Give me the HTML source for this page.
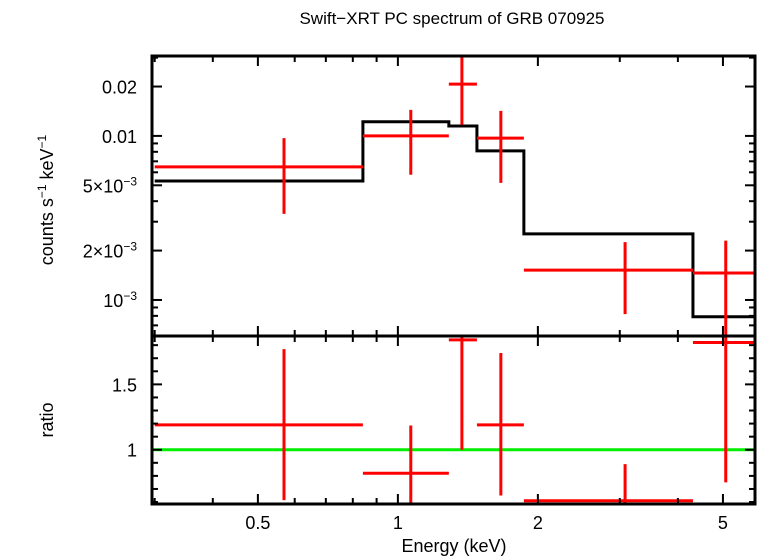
<!DOCTYPE html>
<html><head><meta charset="utf-8"><style>
body{margin:0;background:#fff;}
svg{display:block;font-family:"Liberation Sans",sans-serif;}
</style></head><body>
<svg id="chart" width="758" height="556" viewBox="0 0 758 556" xmlns="http://www.w3.org/2000/svg">
<text x="452" y="24" font-size="17" text-anchor="middle">Swift−XRT PC spectrum of GRB 070925</text>
<g id="g"></g>
</svg>
<script>
// data
const binLo = [0.3, 0.841, 1.287, 1.479, 1.866, 4.31];
const binHi = [0.841, 1.287, 1.479, 1.866, 4.31, 5.86];
const binCenter = [0.569, 1.066, 1.373, 1.665, 3.08, 5.07];
const rate = [0.00647, 0.0100, 0.0207, 0.0097, 0.00152, 0.00146];
const rateHi = [0.0097, 0.0144, 0.0303, 0.0142, 0.00225, 0.0023];
const rateLo = [0.00335, 0.0058, 0.0117, 0.00517, 0.00082, 0.0006];
const model = [0.00531, 0.0122, 0.0115, 0.0081, 0.00253, 0.00079];
const ratio = [1.19, 0.82, 1.84, 1.19, 0.61, 1.82];
const ratioHi = [1.77, 1.185, 1.9, 1.74, 0.89, 1.9];
const ratioLo = [0.615, 0.5, 1.0, 0.65, 0.5, 0.75];
const xTicks = [0.5, 1, 2, 5];
const xTickLabels = ["0.5", "1", "2", "5"];
const yTopTicks = [0.02, 0.01, 0.005, 0.002, 0.001];
const yTopLabels = ["0.02", "0.01", "5×10<tspan dy='-7' font-size='12'>−3</tspan>", "2×10<tspan dy='-7' font-size='12'>−3</tspan>", "10<tspan dy='-7' font-size='12'>−3</tspan>"];
const yBotTicks = [1.5, 1];
const yBotLabels = ["1.5", "1"];

const L=152,R=755,T=56,M=336,B=504;
const xMin=0.296,xMax=5.86;
const X=e=>L+(Math.log10(e)-Math.log10(xMin))/(Math.log10(xMax)-Math.log10(xMin))*(R-L);
const yTMin=6.03e-4,yTMax=0.0307;
const YT=v=>M-(Math.log10(v)-Math.log10(yTMin))/(Math.log10(yTMax)-Math.log10(yTMin))*(M-T);
const rMin=0.585,rMax=1.87;
const YB=v=>B-(v-rMin)/(rMax-rMin)*(B-M);
const clipT=v=>Math.max(T,Math.min(M,v)), clipB=v=>Math.max(M,Math.min(B,v));
const g=document.getElementById('g');
const NS='http://www.w3.org/2000/svg';
function ln(x1,y1,x2,y2,c,w,name){const l=document.createElementNS(NS,'line');
l.setAttribute('x1',x1);l.setAttribute('y1',y1);l.setAttribute('x2',x2);l.setAttribute('y2',y2);
l.setAttribute('stroke',c);l.setAttribute('stroke-width',w);


g.appendChild(l);return l;}
function tx(x,y,s,html,anchor,name){const t=document.createElementNS(NS,'text');
t.setAttribute('x',x);t.setAttribute('y',y);t.setAttribute('font-size',s);t.setAttribute('text-anchor',anchor);t.innerHTML=html;


g.appendChild(t);return t;}

// model step
let d='';
for(let i=0;i<model.length;i++){const y=YT(model[i]);d+=(i?'L':'M')+X(binLo[i])+' '+y+' L'+X(binHi[i])+' '+y+' ';}
const p=document.createElementNS(NS,'path');p.setAttribute('d',d);p.setAttribute('fill','none');p.setAttribute('stroke','#000');p.setAttribute('stroke-width','3');


g.appendChild(p);

// green line
ln(L,YB(1),R,YB(1),'#00ee00',3,'unity-ratio-line');

for(let i=0;i<rate.length;i++){
 ln(X(binLo[i]),YT(rate[i]),X(binHi[i]),YT(rate[i]),'#ff0000',3,'data-xerr-'+i);
 ln(X(binCenter[i]),clipT(YT(rateHi[i])),X(binCenter[i]),clipT(YT(rateLo[i])),'#ff0000',3,'data-yerr-'+i);
 ln(X(binLo[i]),YB(ratio[i]),X(binHi[i]),YB(ratio[i]),'#ff0000',3,'ratio-xerr-'+i);
 ln(X(binCenter[i]),clipB(YB(ratioHi[i])),X(binCenter[i]),clipB(YB(ratioLo[i])),'#ff0000',3,'ratio-yerr-'+i);
}

// x ticks (log minor)
for(let dec=-1;dec<=0;dec++){for(let k=1;k<=9;k++){const e=k*Math.pow(10,dec);if(e<xMin||e>xMax)continue;
 const x=X(e);const major=(k===1||k===2||k===5);const len=major?10:6;
 ln(x,T,x,T+len,'#000',2,'x-tick-top');ln(x,M-len,x,M+len,'#000',2,'x-tick-mid');ln(x,B-len,x,B,'#000',2,'x-tick-bottom');}}
xTicks.forEach((v,i)=>tx(X(v),529,18,xTickLabels[i],'middle','x-tick-label'));
// y top ticks
for(let dec=-4;dec<=-2;dec++){for(let k=1;k<=9;k++){const v=k*Math.pow(10,dec);if(v<yTMin||v>yTMax)continue;
 const y=YT(v);const major=(k===1||k===2||k===5);const len=major?10:6;
 ln(L,y,L+len,y,'#000',2,'y-tick');ln(R-len,y,R,y,'#000',2,'y-tick-right');}}
yTopTicks.forEach((v,i)=>tx(137,YT(v)+7,18,yTopLabels[i],'end','y-tick-label'));
// y bottom ticks
for(let v=0.6;v<=1.85;v+=0.1){const y=YB(v);const major=Math.abs(v-1)<0.01||Math.abs(v-1.5)<0.01;const len=major?10:6;
 ln(L,y,L+len,y,'#000',2,'ratio-tick');ln(R-len,y,R,y,'#000',2,'ratio-tick-right');}
yBotTicks.forEach((v,i)=>tx(137,YB(v)+7,18,yBotLabels[i],'end','ratio-tick-label'));
// frames
const fr=(y1,y2,n)=>{const r=document.createElementNS(NS,'rect');r.setAttribute('x',L);r.setAttribute('y',y1);r.setAttribute('width',R-L);r.setAttribute('height',y2-y1);r.setAttribute('fill','none');r.setAttribute('stroke','#000');r.setAttribute('stroke-width','3');


g.appendChild(r);};
fr(T,M,'top-panel-frame');fr(M,B,'ratio-panel-frame');
tx(454,552,18,'Energy (keV)','middle','x-axis-title');
const yt=tx(0,0,18,"counts s<tspan dy='-7' font-size='12'>−1</tspan><tspan dy='7'> keV</tspan><tspan dy='-7' font-size='12'>−1</tspan>",'middle','y-axis-title');
yt.setAttribute('transform','translate(53,200) rotate(-90)');
const rt=tx(0,0,18,'ratio','middle','ratio-axis-title');
rt.setAttribute('transform','translate(53,420) rotate(-90)');
</script>
</body></html>
